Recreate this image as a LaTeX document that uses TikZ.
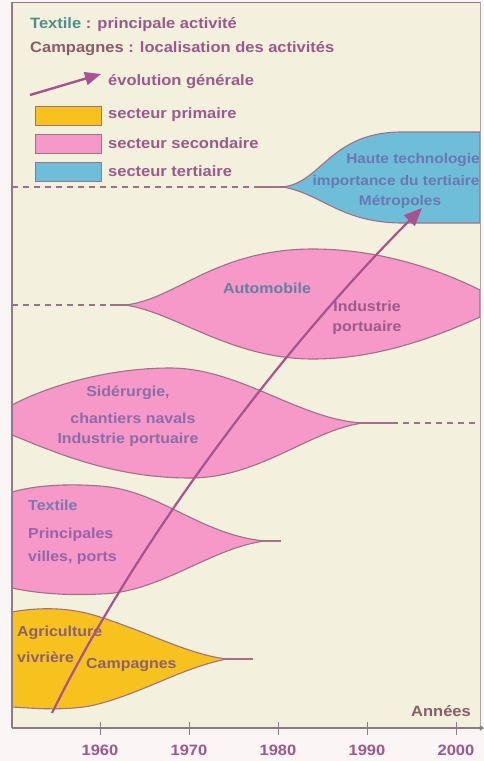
\documentclass[tikz,border=0pt]{standalone}
\usepackage{fontspec}
\newfontfamily\lab[FakeStretch=1.1]{Liberation Sans Bold}
\usetikzlibrary{arrows.meta}
\definecolor{paper}{RGB}{251,245,245}
\definecolor{cream}{RGB}{243,241,221}
\definecolor{pinkf}{RGB}{246,152,200}
\definecolor{yellowf}{RGB}{248,194,30}
\definecolor{bluef}{RGB}{110,190,218}
\definecolor{edge}{RGB}{160,112,136}
\definecolor{axisc}{RGB}{140,124,134}
\definecolor{arrowc}{RGB}{166,83,143}
\definecolor{mauve}{RGB}{155,90,140}
\definecolor{tealc}{RGB}{79,142,140}
\definecolor{brownm}{RGB}{140,90,105}
\definecolor{bluet}{RGB}{108,118,178}
\definecolor{autot}{RGB}{100,128,160}
\definecolor{sidt}{RGB}{140,108,168}
\definecolor{texb}{RGB}{120,120,178}
\definecolor{texp}{RGB}{150,100,168}
\definecolor{agrit}{RGB}{140,96,110}
\tikzset{
  txt/.style={font=\lab\fontsize{15}{17}\selectfont, inner sep=0pt},
  stxt/.style={font=\lab\fontsize{14.5}{17}\selectfont, inner sep=0pt},
  btxt/.style={font=\lab\fontsize{14}{16}\selectfont, inner sep=0pt},
  blob/.style={draw=edge, line width=1.1pt},
  dashline/.style={draw=edge, line width=1.2pt, dash pattern=on 6pt off 5pt},
  stem/.style={draw=edge, line width=1.2pt},
  legbox/.style={draw=edge, line width=1pt},
  evol/.style={draw=arrowc, line width=2.2pt, -{Triangle[length=18pt,width=15pt]}},
  tick/.style={draw=axisc, line width=1pt}
}
\begin{document}
\begin{tikzpicture}[x=1pt,y=-1pt]
\useasboundingbox (0,0) rectangle (484,761);
\fill[paper] (0,0) rectangle (484,761);
\fill[cream] (12,2) rectangle (480,728);

% ---------- tertiary (blue) ----------
\draw[dashline] (12,187) -- (258,187);
\draw[stem] (256,187) -- (285,187);
\path[blob, fill=bluef] (283,187) .. controls (322,182) and (330,133) .. (400,132) -- (480,132)
  -- (480,223) -- (400,223) .. controls (340,222) and (322,194) .. (283,187) -- cycle;

% ---------- automobile (pink) ----------
\draw[dashline] (12,305) -- (112,305);
\draw[stem] (110,305) -- (127,305);
\path[blob, fill=pinkf] (125,305) .. controls (175,300) and (215,249) .. (313,249)
  .. controls (380,249) and (440,270) .. (480,290) -- (480,317)
  .. controls (440,335) and (380,359) .. (313,359)
  .. controls (230,359) and (175,312) .. (125,305) -- cycle;

% ---------- siderurgie (pink) ----------
\draw[stem] (360,423) -- (392,423);
\draw[dashline] (392,423) -- (480,423);
\path[blob, fill=pinkf] (12,405) .. controls (50,385) and (110,368) .. (170,368)
  .. controls (240,368) and (300,420) .. (363,423)
  .. controls (310,430) and (260,478) .. (190,478)
  .. controls (110,478) and (50,450) .. (12,435) -- cycle;

% ---------- textile (pink) ----------
\draw[stem] (262,541) -- (281,541);
\path[blob, fill=pinkf] (12,492) .. controls (40,484) and (75,484) .. (100,486)
  .. controls (160,490) and (200,535) .. (265,541)
  .. controls (210,548) and (160,593) .. (100,594)
  .. controls (60,596) and (30,592) .. (12,588) -- cycle;

% ---------- agriculture (yellow) ----------
\draw[stem] (224,659) -- (253,659);
\path[blob, fill=yellowf] (12,612) .. controls (40,607) and (70,607) .. (100,617)
  .. controls (150,633) and (190,655) .. (227,659)
  .. controls (180,668) and (140,695) .. (90,706)
  .. controls (60,711) and (30,708) .. (12,707) -- cycle;

% ---------- frame & axes ----------
\draw[axisc, line width=1pt] (12,2) -- (480,2);
\draw[axisc!70, line width=1pt] (480,2) -- (480,728);
\draw[axisc, line width=1.5pt] (12,2) -- (12,728);
\coordinate (ax0) at (12,728);
\coordinate (ax1) at (484,728);
\draw[axisc, line width=1.2pt, -{Straight Barb[length=3pt,width=4pt]}] (ax0) -- (ax1);
\foreach \xx/\yr in {100/1960,189/1970,278/1980,367/1990,456/2000}{
  \draw[tick] (\xx,722) -- (\xx,735);
  \node[txt, text=mauve] (y\yr) at (\xx,750) {\yr};
}
\node[txt, text=brownm, anchor=east] (annees) at (471,711) {Années};

% ---------- legend ----------
\node[txt, text=mauve, anchor=west] (leg1) at (30,25) {\textcolor{tealc}{Textile} : principale activité};
\node[txt, text=mauve, anchor=west] (leg2) at (30,49) {\textcolor{brownm}{Campagnes} : localisation des activités};
\coordinate (la0) at (30,95);
\coordinate (la1) at (101,74);
\draw[evol, line width=2.4pt, -{Triangle[length=16pt,width=13pt]}] (la0) -- (la1);
\node[txt, text=mauve, anchor=west] (leg3) at (108,82) {évolution générale};
\draw[legbox, fill=yellowf] (35,106) rectangle (101,125);
\node[txt, text=mauve, anchor=west] (leg4) at (108,115) {secteur primaire};
\draw[legbox, fill=pinkf] (35,134) rectangle (101,153);
\node[txt, text=mauve, anchor=west] (leg5) at (108,143) {secteur secondaire};
\draw[legbox, fill=bluef] (35,162) rectangle (101,181);
\node[txt, text=mauve, anchor=west] (leg6) at (108,171) {secteur tertiaire};

% ---------- shape texts ----------
\node[btxt, text=bluet] (t1) at (413,160) {Haute technologie};
\node[btxt, text=bluet] (t2) at (396,182) {importance du tertiaire};
\node[btxt, text=bluet] (t3) at (400,202) {Métropoles};

\node[stxt, text=autot] (a1) at (267,288) {Automobile};
\node[stxt, text=mauve] (a2) at (367,306) {Industrie};
\node[stxt, text=mauve] (a3) at (367,328) {portuaire};

\node[stxt, text=sidt] (s1) at (128,393) {Sidérurgie,};
\node[stxt, text=sidt] (s2) at (133,418) {chantiers navals};
\node[stxt, text=sidt] (s3) at (128,440) {Industrie portuaire};

\node[stxt, text=texb, anchor=west] (x1) at (28,505) {Textile};
\node[stxt, text=texp, anchor=west] (x2) at (28,535) {Principales};
\node[stxt, text=texp, anchor=west] (x3) at (28,558) {villes, ports};

\node[stxt, text=agrit, anchor=west] (g1) at (17,633) {Agriculture};
\node[stxt, text=agrit, anchor=west] (g2) at (17,657) {vivrière};
\node[stxt, text=agrit, anchor=west] (g3) at (86,665) {Campagnes};

% ---------- general evolution arrow ----------
\coordinate (ev0) at (52,713);
\coordinate (ev1) at (422,208);
\draw[evol] (ev0) .. controls (145,525) and (295,335) .. (ev1);
\end{tikzpicture}
\end{document}
